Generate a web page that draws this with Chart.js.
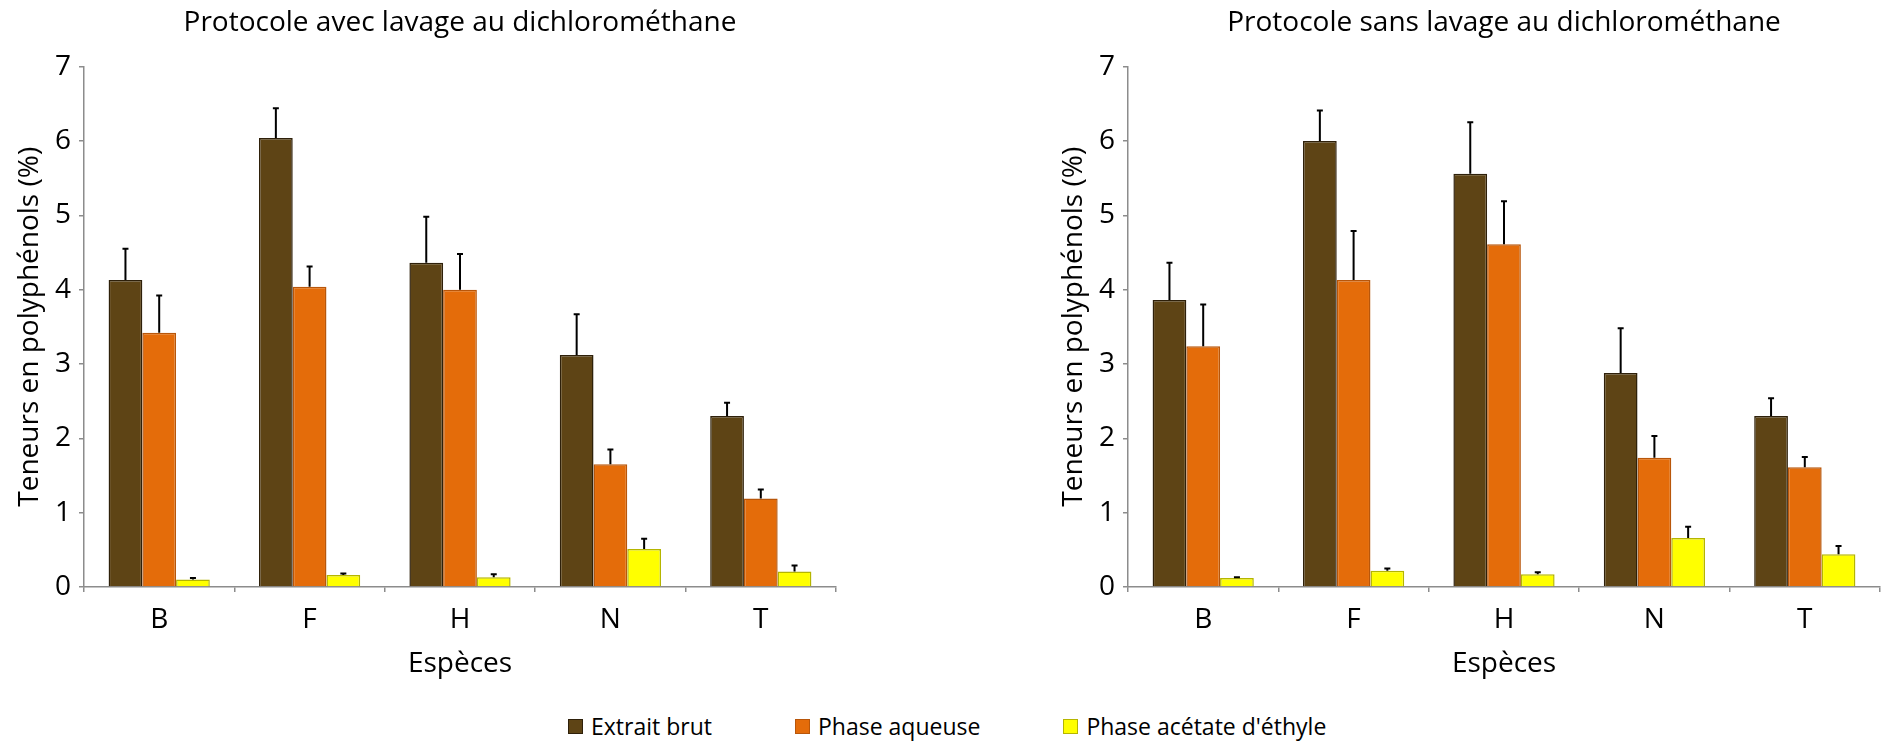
<!DOCTYPE html>
<html>
<head>
<meta charset="utf-8">
<script src="https://cdn.jsdelivr.net/npm/chart.js@4.4.0/dist/chart.umd.min.js"></script>
<style>
  html, body { margin: 0; padding: 0; background: #fff; overflow: hidden; }
  body { width: 1883px; height: 741px; position: relative; font-family: "Open Sans", sans-serif; }
  .chart-box { position: absolute; top: 0; }
  #legend { position: absolute; left: 568px; top: 711px; display: flex; gap: 83px; font-size: 23px; line-height: 30px; color: #000; }
  #legend .item { display: flex; align-items: center; }
  #legend .swatch { width: 13px; height: 13px; margin-right: 8px; border: 1px solid; }
</style>
</head>
<body>
<div class="chart-box" style="left:0px"><canvas id="chartAvec" width="840" height="700"></canvas></div>
<div class="chart-box" style="left:1044px"><canvas id="chartSans" width="839" height="700"></canvas></div>
<div id="legend"></div>

<script>
// data
const species = ["B", "F", "H", "N", "T"];
const seriesNames = ["Extrait brut", "Phase aqueuse", "Phase acétate d'éthyle"];

// protocole avec lavage au dichlorométhane
const avecBrut = [4.13, 6.04, 4.36, 3.12, 2.30];
const avecBrutErr = [0.42, 0.40, 0.62, 0.55, 0.18];
const avecAqueuse = [3.42, 4.04, 4.00, 1.65, 1.19];
const avecAqueuseErr = [0.50, 0.27, 0.48, 0.20, 0.12];
const avecAcetate = [0.10, 0.16, 0.13, 0.51, 0.21];
const avecAcetateErr = [0.02, 0.02, 0.04, 0.14, 0.08];

// protocole sans lavage au dichlorométhane
const sansBrut = [3.86, 6.00, 5.56, 2.88, 2.30];
const sansBrutErr = [0.50, 0.41, 0.69, 0.60, 0.24];
const sansAqueuse = [3.24, 4.13, 4.61, 1.74, 1.61];
const sansAqueuseErr = [0.56, 0.66, 0.58, 0.29, 0.14];
const sansAcetate = [0.12, 0.22, 0.17, 0.66, 0.44];
const sansAcetateErr = [0.01, 0.03, 0.03, 0.15, 0.11];

const yMin = 0, yMax = 7, yStep = 1;

// colours
const fillColors = ["#5E4415", "#E46C0A", "#FFFF00"];
const edgeColors = ["#2E200A", "#B8560A", "#B5B500"];
const axisColor = "#8C8C8C";
const fontFamily = "'Open Sans', sans-serif";

// error bars (upper side only), drawn from the bar tops
const errorBars = {
    id: "errorBars",
    afterDatasetsDraw(chart) {
        const ctx = chart.ctx;
        const yScale = chart.scales.y;
        ctx.save();
        ctx.strokeStyle = "#000";
        ctx.lineWidth = 2;
        chart.data.datasets.forEach(function (ds, di) {
            const meta = chart.getDatasetMeta(di);
            meta.data.forEach(function (bar, i) {
                const top = yScale.getPixelForValue(ds.data[i] + ds.errors[i]);
                ctx.beginPath();
                ctx.moveTo(bar.x, bar.y);
                ctx.lineTo(bar.x, top);
                ctx.moveTo(bar.x - 3, top);
                ctx.lineTo(bar.x + 3, top);
                ctx.stroke();
            });
        });
        ctx.restore();
    }
};

function makeDataset(i, values, errors) {
    return {
        label: seriesNames[i],
        data: values,
        errors: errors,
        backgroundColor: fillColors[i],
        borderColor: edgeColors[i],
        borderWidth: 1.5,
        barPercentage: 1.0,
        categoryPercentage: 0.673
    };
}

function makeChart(canvasId, title, padRight, sets) {
    return new Chart(document.getElementById(canvasId), {
        type: "bar",
        data: {
            labels: species,
            datasets: sets
        },
        plugins: [errorBars],
        options: {
            responsive: false,
            animation: false,
            devicePixelRatio: 1,
            layout: { padding: { left: 0, right: padRight, top: 0, bottom: 0 } },
            plugins: {
                legend: { display: false },
                tooltip: { enabled: false },
                title: {
                    display: true,
                    text: title,
                    fullSize: false,
                    color: "#000",
                    font: { family: fontFamily, size: 28, weight: "normal" },
                    padding: { top: 6, bottom: 27 }
                }
            },
            scales: {
                x: {
                    afterFit: function (scale) { scale.height = 113; },
                    grid: { display: true, drawOnChartArea: false, drawTicks: true, tickLength: 5, color: axisColor, lineWidth: 1.5 },
                    border: { display: true, color: axisColor, width: 1.5 },
                    ticks: { color: "#000", padding: 11, font: { family: fontFamily, size: 28 } },
                    title: {
                        display: true,
                        text: "Espèces",
                        color: "#000",
                        font: { family: fontFamily, size: 28 },
                        padding: { top: 0, bottom: 19 }
                    }
                },
                y: {
                    min: yMin,
                    max: yMax,
                    afterFit: function (scale) { scale.width = 84; },
                    grid: { display: true, drawOnChartArea: false, drawTicks: true, tickLength: 5, color: axisColor, lineWidth: 1.5 },
                    border: { display: true, color: axisColor, width: 1.5 },
                    ticks: { stepSize: yStep, color: "#000", padding: 8, font: { family: fontFamily, size: 28 } },
                    title: {
                        display: true,
                        text: "Teneurs en polyphénols (%)",
                        color: "#000",
                        font: { family: fontFamily, size: 28 },
                        padding: { top: 13, bottom: 0 }
                    }
                }
            }
        }
    });
}

makeChart("chartAvec", "Protocole avec lavage au dichlorométhane", 4, [
    makeDataset(0, avecBrut, avecBrutErr),
    makeDataset(1, avecAqueuse, avecAqueuseErr),
    makeDataset(2, avecAcetate, avecAcetateErr)
]);

makeChart("chartSans", "Protocole sans lavage au dichlorométhane", 3, [
    makeDataset(0, sansBrut, sansBrutErr),
    makeDataset(1, sansAqueuse, sansAqueuseErr),
    makeDataset(2, sansAcetate, sansAcetateErr)
]);

// shared legend below both charts
var legendBox = document.getElementById("legend");
for (var i = 0; i < seriesNames.length; i++) {
    var item = document.createElement("div");
    item.className = "item";
    var sw = document.createElement("span");
    sw.className = "swatch";
    sw.style.background = fillColors[i];
    sw.style.borderColor = edgeColors[i];
    var txt = document.createElement("span");
    txt.textContent = seriesNames[i];
    item.appendChild(sw);
    item.appendChild(txt);
    legendBox.appendChild(item);
}
</script>
</body>
</html>
